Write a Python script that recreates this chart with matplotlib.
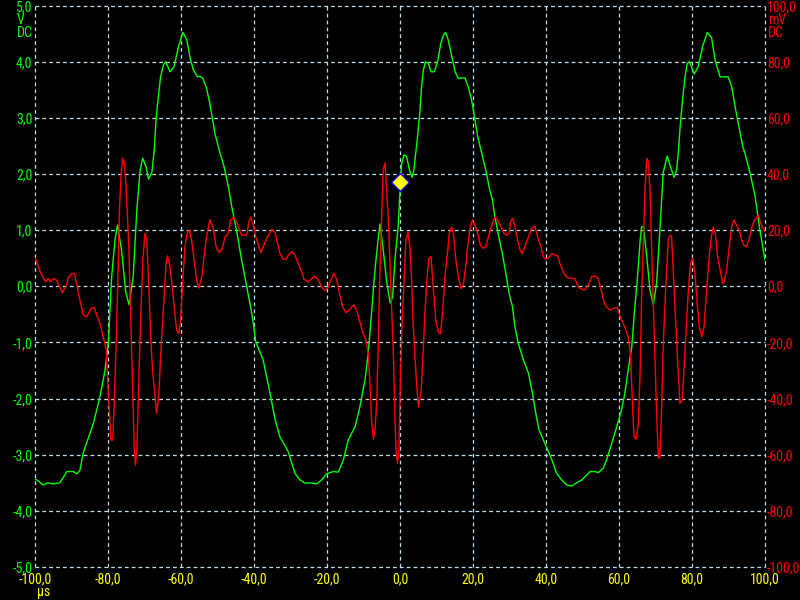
import matplotlib
matplotlib.use("Agg")
import matplotlib.pyplot as plt
from matplotlib import font_manager
import numpy as np

# Channel A (green, V)
green_t = [-100.0, -98.9, -97.8, -96.5, -95.0, -93.2, -92.0, -91.3, -89.5, -88.5,
           -87.7, -86.8, -84.0, -82.2, -80.8, -79.9, -79.0, -78.1, -77.4, -76.3,
           -75.1, -74.2, -73.1, -72.1, -71.2, -70.5, -69.6, -68.9, -68.0, -67.4,
           -66.8, -66.2, -65.6, -64.8, -64.2, -63.0, -61.9, -60.7, -59.5, -58.4,
           -57.5, -56.6, -55.5, -54.8, -54.0, -53.1, -52.1, -50.7, -49.3, -48.2,
           -47.0, -46.1, -44.8, -43.4, -42.0, -40.6, -39.5, -37.5, -35.6, -34.2,
           -32.9, -30.6, -28.8, -27.4, -26.0, -24.7, -22.8, -21.5, -20.1, -18.3,
           -16.9, -15.5, -14.2, -12.3, -11.0, -9.6, -8.7, -7.8, -7.1, -6.4,
           -5.5, -4.6, -3.7, -2.7, -2.0, -1.4, -0.5, 0.0, 0.46, 1.1,
           1.8, 2.6, 3.3, 3.8, 4.4, 4.8, 5.5, 5.9, 6.4, 7.0,
           7.8, 8.5, 9.4, 10.3, 11.2, 11.9, 12.5, 13.2, 14.2, 15.1,
           16.0, 16.9, 17.8, 18.7, 19.6, 20.4, 21.3, 22.4, 23.5, 24.4,
           25.3, 26.0, 26.9, 28.0, 29.0, 29.9, 30.8, 31.5, 32.4, 33.8,
           35.2, 36.3, 37.2, 38.1, 39.3, 40.5, 41.6, 42.9, 44.3, 45.7,
           47.0, 48.4, 49.8, 51.2, 52.1, 53.4, 54.3, 55.7, 56.6, 58.0,
           59.4, 60.7, 61.6, 62.5, 63.5, 64.2, 65.0, 65.8, 66.2, 66.7,
           67.6, 68.5, 69.4, 70.3, 71.2, 72.1, 73.2, 74.1, 75.1, 75.8,
           76.3, 76.7, 77.4, 78.1, 78.7, 79.3, 80.6, 81.7, 82.9, 84.2,
           85.4, 86.3, 87.7, 89.0, 89.9, 90.9, 91.8, 92.7, 93.9, 94.5,
           95.9, 97.3, 98.6, 100.0]
green_v = [-3.43, -3.48, -3.54, -3.50, -3.52, -3.50, -3.38, -3.30, -3.30, -3.34,
           -3.28, -2.97, -2.44, -1.97, -1.49, -1.01, 0.17, 0.82, 1.09, 0.65,
           -0.12, -0.33, 0.17, 1.36, 2.07, 2.28, 2.13, 1.91, 2.02, 2.37,
           3.00, 3.38, 3.73, 3.94, 4.00, 3.82, 3.91, 4.27, 4.52, 4.39,
           4.06, 3.85, 3.73, 3.74, 3.70, 3.55, 3.26, 2.72, 2.37, 2.13,
           1.77, 1.42, 1.00, 0.47, 0.00, -0.48, -0.99, -1.31, -1.91, -2.38,
           -2.68, -2.95, -3.33, -3.45, -3.51, -3.50, -3.52, -3.45, -3.34, -3.30,
           -3.31, -3.09, -2.74, -2.50, -2.15, -1.67, -1.19, -0.48, 0.11, 0.59,
           1.11, 0.65, 0.11, -0.30, -0.19, 0.47, 1.06, 1.70, 2.19, 2.34,
           2.31, 2.07, 1.94, 2.07, 2.43, 2.66, 3.14, 3.55, 3.85, 4.00,
           3.97, 3.82, 3.82, 4.00, 4.33, 4.47, 4.52, 4.39, 4.09, 3.82,
           3.70, 3.71, 3.71, 3.55, 3.32, 3.02, 2.66, 2.37, 2.07, 1.77,
           1.54, 1.24, 0.94, 0.59, 0.23, -0.13, -0.36, -0.72, -1.01, -1.31,
           -1.55, -1.91, -2.26, -2.56, -2.74, -2.92, -3.09, -3.33, -3.45, -3.54,
           -3.56, -3.50, -3.45, -3.36, -3.30, -3.30, -3.32, -3.24, -3.09, -2.80,
           -2.50, -2.20, -1.91, -1.49, -1.08, -0.48, 0.11, 0.82, 1.06, 1.06,
           0.53, -0.07, -0.33, 0.05, 1.00, 2.02, 2.32, 2.13, 1.94, 2.07,
           2.43, 2.80, 3.32, 3.73, 3.97, 4.00, 3.78, 3.91, 4.27, 4.52,
           4.42, 4.03, 3.73, 3.73, 3.73, 3.55, 3.20, 2.90, 2.49, 2.37,
           2.02, 1.60, 1.00, 0.47]

# Channel B (red, mV)
red_t = [-99.9, -99.1, -98.4, -97.7, -97.0, -96.4, -95.7, -95.0, -94.1, -93.3,
         -92.5, -91.5, -90.9, -89.9, -89.2, -88.6, -87.7, -86.8, -85.8, -84.7,
         -83.8, -83.1, -82.2, -81.3, -80.5, -80.1, -79.6, -79.2, -78.7, -78.3,
         -77.8, -77.3, -76.9, -76.4, -76.0, -75.5, -74.9, -74.3, -73.8, -73.2,
         -72.8, -72.5, -72.1, -71.7, -71.0, -70.5, -69.9, -69.4, -68.9, -68.3,
         -67.8, -67.1, -66.7, -66.1, -65.6, -64.8, -64.1, -63.7, -63.0, -62.3,
         -61.6, -61.2, -60.6, -60.1, -59.5, -58.9, -58.3, -57.7, -57.1, -56.4,
         -55.7, -55.1, -54.3, -53.7, -53.0, -52.1, -51.2, -50.4, -49.6, -48.8,
         -47.9, -47.0, -46.4, -45.5, -44.6, -43.4, -42.0, -41.4, -40.9, -40.2,
         -39.5, -38.8, -38.1, -37.5, -36.7, -36.1, -35.0, -34.2, -33.6, -32.9,
         -32.0, -31.2, -30.6, -29.7, -28.8, -27.9, -26.9, -26.3, -25.1, -24.2,
         -23.3, -22.4, -21.5, -20.5, -19.6, -19.0, -18.1, -17.3, -16.6, -15.7,
         -14.8, -13.9, -13.2, -12.6, -11.9, -11.0, -10.1, -9.3, -8.7, -8.2,
         -7.8, -7.3, -6.8, -6.4, -5.9, -5.5, -5.0, -4.6, -4.1, -3.7,
         -3.2, -2.7, -2.3, -1.8, -1.4, -1.1, -0.7, -0.3, 0.0, 0.5,
         1.1, 1.6, 2.2, 2.7, 3.2, 3.6, 4.1, 4.6, 5.1, 5.8,
         6.4, 6.8, 7.4, 7.9, 8.5, 9.1, 9.8, 10.5, 11.1, 11.7,
         12.3, 13.0, 13.5, 14.2, 14.7, 15.3, 16.0, 16.7, 17.4, 18.0,
         18.5, 19.2, 19.8, 20.5, 21.3, 22.0, 22.8, 23.5, 24.2, 24.9,
         25.6, 26.2, 26.9, 27.7, 28.3, 29.2, 29.9, 30.3, 30.9, 31.5,
         32.2, 32.9, 33.5, 34.2, 34.9, 35.6, 36.2, 37.0, 37.7, 38.6,
         39.3, 39.9, 40.6, 41.6, 42.5, 43.2, 43.8, 44.7, 45.7, 46.6,
         47.9, 48.8, 49.8, 50.7, 51.6, 52.5, 53.4, 54.3, 55.1, 56.0,
         56.6, 57.5, 58.4, 59.5, 60.3, 61.2, 61.9, 62.5, 63.2, 63.6,
         64.1, 64.7, 65.3, 65.8, 66.2, 66.7, 67.1, 67.6, 68.0, 68.5,
         69.0, 69.4, 69.9, 70.3, 70.8, 71.2, 71.7, 72.1, 72.9, 73.5,
         74.0, 74.4, 74.9, 75.5, 76.1, 76.7, 77.3, 77.8, 78.4, 79.0,
         79.6, 80.2, 80.8, 81.5, 82.0, 82.7, 83.3, 84.0, 84.7, 85.3,
         85.8, 86.4, 86.9, 87.7, 88.4, 88.8, 89.5, 90.2, 90.9, 91.5,
         92.2, 92.9, 93.6, 94.2, 94.9, 95.6, 96.2, 96.9, 97.6, 98.2,
         98.8, 99.4, 100.0]
red_mv = [10.0, 7.0, 4.6, 2.8, 1.6, 2.8, 1.6, 2.8, 2.2, -0.2,
          -2.3, 0.1, 2.8, 4.6, 4.4, 1.0, -4.9, -10.2, -10.9, -7.9,
          -7.5, -10.2, -13.2, -18.0, -22.7, -33.4, -45.3, -54.8, -54.8, -41.7,
          -21.5, 2.2, 26.0, 40.2, 45.6, 43.8, 31.9, 14.1, -9.6, -39.3,
          -58.3, -63.7, -58.3, -39.3, -9.6, 8.2, 18.9, 16.5, 2.2, -18.0,
          -29.8, -39.3, -45.3, -39.3, -25.1, -7.3, 8.2, 10.8, 7.0, -1.3,
          -10.9, -15.6, -16.8, -12.0, 2.2, 14.1, 18.9, 20.0, 16.5, 9.3,
          2.2, -0.7, 3.4, 10.5, 17.6, 23.7, 20.8, 14.1, 12.0, 12.9,
          17.6, 18.9, 23.6, 24.6, 22.4, 18.2, 18.2, 23.0, 24.6, 21.8,
          17.6, 14.7, 12.0, 14.1, 16.5, 18.2, 20.3, 18.9, 15.5, 11.7,
          9.6, 9.6, 11.1, 12.3, 11.1, 8.2, 5.2, 2.5, 1.6, 2.8,
          3.6, 2.2, -0.2, -1.6, -0.2, 2.2, 4.6, 2.2, -2.5, -7.3,
          -9.4, -8.5, -7.3, -6.7, -8.5, -12.6, -16.8, -19.2, -23.9, -35.8,
          -47.6, -54.5, -50.6, -41.7, -18.0, 5.8, 26.0, 41.4, 44.0, 35.0,
          23.6, 5.8, -7.5, -25.0, -46.0, -58.3, -63.1, -58.3, -39.3, -15.6,
          2.2, 16.5, 19.4, 14.1, 2.2, -13.2, -25.1, -36.0, -43.0, -37.0,
          -22.0, -10.0, 3.0, 10.0, 10.5, -0.2, -12.0, -16.2, -17.0, -8.5,
          3.4, 11.7, 18.9, 21.0, 17.6, 9.3, 3.4, -0.9, 1.0, 7.0,
          14.1, 20.6, 23.6, 21.8, 18.9, 14.7, 13.5, 14.1, 17.6, 20.6,
          23.6, 24.8, 23.0, 21.2, 19.1, 18.2, 18.9, 23.0, 24.2, 21.2,
          16.5, 12.9, 11.7, 14.1, 16.5, 18.9, 21.0, 21.2, 17.6, 14.1,
          10.5, 9.6, 10.0, 11.7, 11.1, 10.8, 8.2, 5.2, 3.2, 2.8,
          2.8, -0.2, -1.1, -1.3, 0.4, 3.4, 3.7, 2.8, -1.3, -6.1,
          -7.3, -8.5, -7.9, -7.5, -10.9, -13.2, -15.6, -18.0, -25.1, -39.3,
          -53.6, -54.5, -48.8, -29.8, -3.7, 17.6, 34.3, 45.6, 44.4, 34.3,
          10.5, -6.1, -27.5, -45.3, -61.3, -60.7, -42.9, -21.5, 2.2, 16.5,
          18.2, 17.8, 4.6, -10.9, -27.5, -41.7, -40.5, -29.8, -15.6, -1.3,
          8.2, 10.0, 4.6, -7.3, -14.4, -18.0, -14.4, -1.3, 10.5, 17.6,
          21.0, 18.9, 11.7, 5.8, 1.0, 1.6, 5.8, 14.1, 21.2, 23.6,
          21.8, 20.0, 16.5, 14.7, 14.1, 16.5, 20.0, 23.0, 24.2, 25.4,
          22.4, 20.6, 19.4]

# trigger marker
trigger_t = 0.0
trigger_v = 1.86

x_ticks = np.arange(-100, 101, 20)
v_ticks = np.arange(-5, 6, 1)
mv_ticks = np.arange(-100, 101, 20)

GREEN = '#00ff00'
RED = '#ff0000'
YELLOW = '#ffff00'
GRID = '#c4dcec'

# narrow font if there is one, the scope font is tall and thin
installed = {f.name for f in font_manager.fontManager.ttflist}
FONT = [n for n in ['Liberation Sans Narrow', 'DejaVu Sans Condensed', 'Roboto Condensed']
        if n in installed] + ['DejaVu Sans']
FS = 10 if FONT[0] != 'DejaVu Sans' else 8.5


def comma(v):
    s = f'{v:.1f}'.replace('.', ',')
    return '0,0' if s == '-0,0' else s


fig = plt.figure(figsize=(8, 6), dpi=100, facecolor='black')
ax = fig.add_axes([35 / 800, 33 / 600, 730 / 800, 561.5 / 600])
ax.set_facecolor('black')
ax2 = ax.twinx()

ax.set_xlim(-100, 100)
ax.set_ylim(-5, 5)
ax2.set_ylim(-100, 100)

for a in (ax, ax2):
    for sp in a.spines.values():
        sp.set_visible(False)

ax.set_xticks(x_ticks)
ax.set_xticklabels([comma(v) for v in x_ticks], color=YELLOW, family=FONT, fontsize=FS)
ax.set_yticks(v_ticks)
ax.set_yticklabels([comma(v) for v in v_ticks], color=GREEN, family=FONT, fontsize=FS)
ax2.set_yticks(mv_ticks)
ax2.set_yticklabels([comma(v) for v in mv_ticks], color=RED, family=FONT, fontsize=FS)
ax.tick_params(axis='x', length=0, pad=4)
ax.tick_params(axis='y', length=0, pad=2)
ax2.tick_params(axis='y', length=0, pad=1.5)

ax.grid(True, color=GRID, linestyle=(0, (3, 2.5)), linewidth=0.9)
for ln in ax.get_xgridlines() + ax.get_ygridlines():
    ln.set_clip_on(False)

ax.plot(green_t, green_v, color=GREEN, linewidth=1.0, zorder=3)
ax2.plot(red_t, red_mv, color=RED, linewidth=1.0, zorder=3)
ax2.plot(trigger_t, trigger_v * 20, marker='D', markersize=9, color=YELLOW,
         markeredgecolor='#0000ff', markeredgewidth=1.0, zorder=5)

# units in the corners
fig.text(17 / 800, 1 - 20 / 600, 'V', color=GREEN, family=FONT, fontsize=FS, va='center')
fig.text(17 / 800, 1 - 33 / 600, 'DC', color=GREEN, family=FONT, fontsize=FS, va='center')
fig.text(768 / 800, 1 - 20 / 600, 'mV', color=RED, family=FONT, fontsize=FS, va='center')
fig.text(768 / 800, 1 - 33 / 600, 'DC', color=RED, family=FONT, fontsize=FS, va='center')
fig.text(37 / 800, 1 / 600, 'µs', color=YELLOW, family=FONT, fontsize=FS, va='bottom')

fig.savefig('out.png', dpi=100, facecolor='black')
